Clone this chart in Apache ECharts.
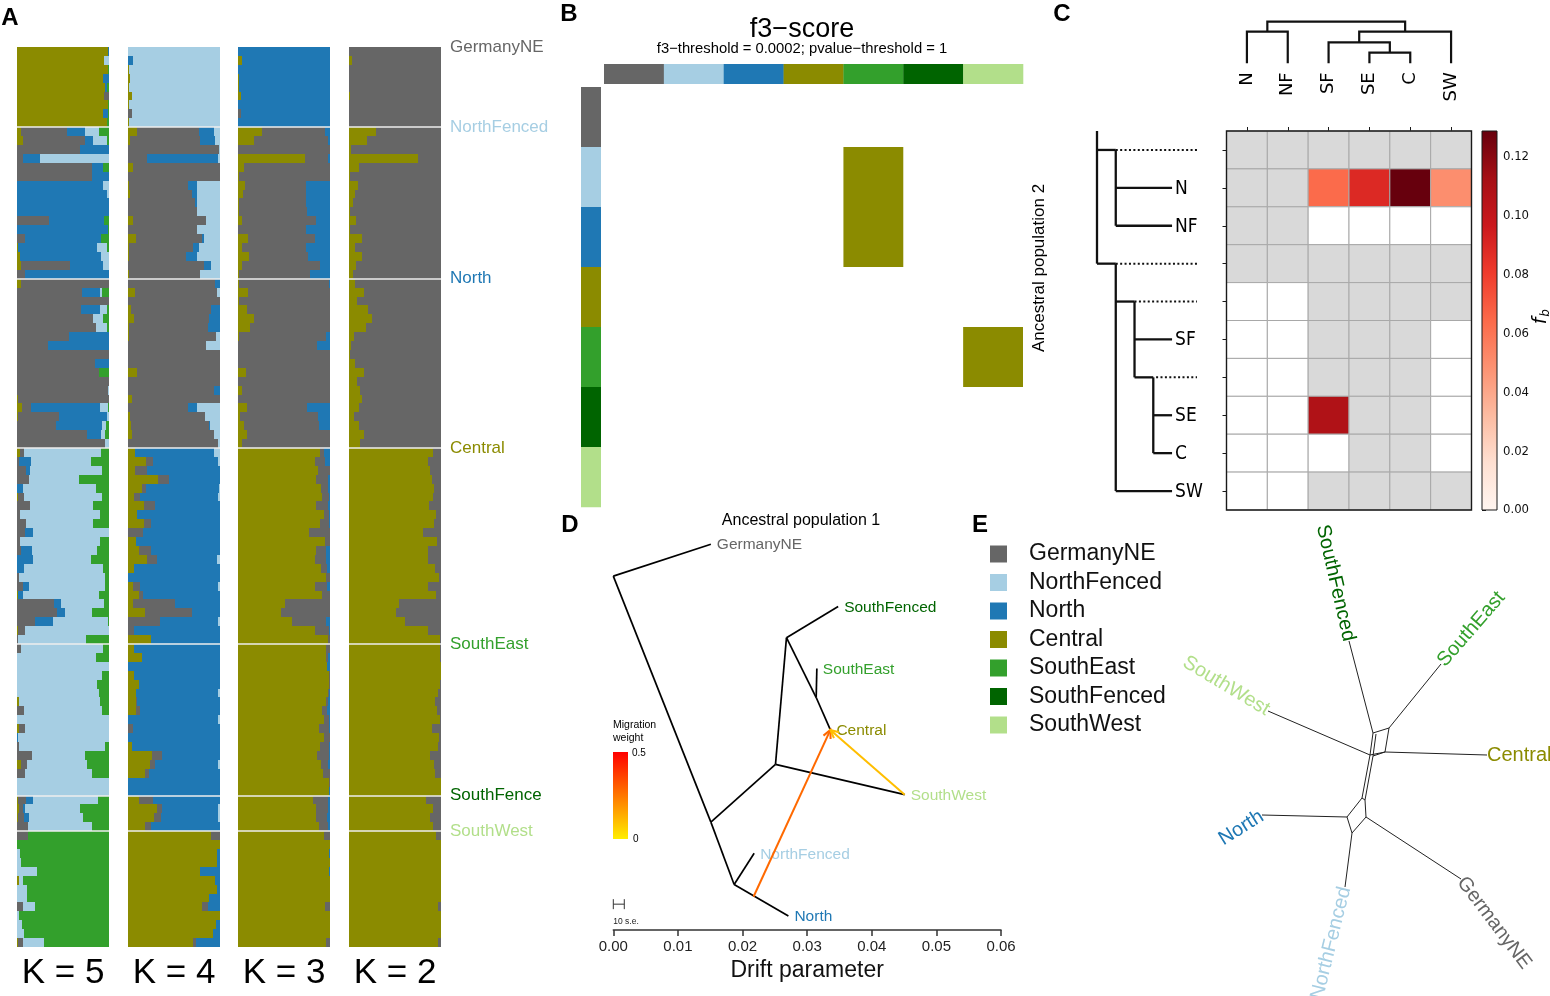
<!DOCTYPE html>
<html>
<head>
<meta charset="utf-8">
<title>Population structure</title>
<script src="https://cdn.jsdelivr.net/npm/echarts@6/dist/echarts.min.js"></script>
<style>
html,body{margin:0;padding:0;background:#ffffff;}
#chart{width:1550px;height:996px;}
</style>
</head>
<body>
<div id="chart"></div>
<script>
// ================= DATA =================
const popNames  = ['GermanyNE','NorthFenced','North','Central','SouthEast','SouthFenced','SouthWest'];
const popColors = ['#666666','#a6cee3','#1f78b4','#8b8b00','#33a02c','#006400','#b2df8a'];

// ---- Panel A : admixture proportions (percent, one row per individual) ----
const groupLabels = ['GermanyNE','NorthFenced','North','Central','SouthEast','SouthFence','SouthWest'];
const groupSizes  = [9,17,19,22,17,4,13];
const kLabels     = ['K = 5','K = 4','K = 3','K = 2'];
const clusterColorsK5 = ['#8b8b00','#666666','#1f78b4','#a6cee3','#33a02c'];
const clusterColorsK4 = ['#8b8b00','#666666','#1f78b4','#a6cee3'];
const clusterColorsK3 = ['#8b8b00','#666666','#1f78b4'];
const clusterColorsK2 = ['#8b8b00','#666666'];

const admixK5 = [
 [99,0,1,0,0],[95,0,0,5,0],[99,0,0,0,1],[94,0,6,0,0],[96,0,2,0,2],[95,5,0,0,0],[99,0,0,0,1],[94,0,5,0,1],[98,0,0,0,2],
 [4,50,20,15,11],[6,68,9,15,2],[0,69,31,0,0],[0,7,18,75,0],[0,82,12,0,6],[0,82,18,0,0],[0,0,94,6,0],[0,0,98,2,0],[0,0,100,0,0],[0,0,100,0,0],[0,35,60,0,5],[0,0,99,0,1],[0,9,82,0,9],[1,0,86,11,2],[3,0,88,9,0],[4,54,35,7,0],[0,9,91,0,0],
 [4,96,0,0,0],[0,71,19,2,8],[0,100,0,0,0],[0,70,20,8,2],[0,83,0,10,7],[0,86,0,12,2],[0,56,44,0,0],[0,34,66,0,0],[0,100,0,0,0],[0,85,15,0,0],[0,89,0,0,11],[0,100,0,0,0],[0,99,0,1,0],[1,99,0,0,0],[5,10,75,9,1],[1,45,52,2,0],[0,42,50,5,3],[0,76,15,5,4],[0,96,0,4,0],
 [3,5,0,83,9],[0,2,13,65,20],[0,10,4,78,8],[0,13,0,54,33],[0,0,7,79,14],[1,7,0,84,8],[0,14,0,69,17],[0,3,0,87,10],[0,10,0,73,17],[0,9,8,83,0],[0,3,0,87,10],[0,4,12,71,13],[0,0,17,63,20],[0,0,8,85,7],[0,2,0,94,4],[0,6,7,83,4],[1,0,5,83,11],[0,40,8,47,5],[0,43,9,29,19],[0,20,19,60,1],[1,8,0,91,0],[0,1,0,74,25],
 [0,4,0,90,6],[0,0,0,86,14],[0,0,0,100,0],[0,0,0,92,8],[0,0,0,87,13],[0,0,0,89,11],[2,0,0,88,10],[0,8,0,84,8],[0,0,0,100,0],[2,7,0,91,0],[0,0,1,99,0],[0,2,0,94,4],[0,16,0,58,26],[4,7,0,65,24],[0,9,0,73,18],[0,0,0,100,0],[0,0,0,100,0],
 [1,9,7,71,12],[2,4,3,60,31],[1,7,5,59,28],[0,12,0,70,18],
 [0,12,0,0,88],[0,0,0,0,100],[0,0,0,3,97],[0,0,0,4,96],[0,0,0,22,78],[2,0,0,4,94],[0,0,0,11,89],[0,0,0,11,89],[0,7,0,13,80],[0,0,0,2,98],[0,0,0,5,95],[0,0,0,8,92],[1,6,0,22,71]
];
const admixK4 = [
 [0,0,0,100],[0,0,5,95],[1,0,0,99],[2,0,0,98],[1,0,0,99],[4,0,0,96],[1,0,0,99],[0,4,0,96],[1,0,0,99],
 [10,67,16,7],[2,76,17,5],[0,99,0,1],[0,21,77,2],[5,95,0,0],[0,100,0,0],[1,64,10,25],[2,68,5,25],[0,73,2,25],[0,75,0,25],[5,80,0,15],[0,75,0,25],[9,71,3,17],[1,70,6,23],[1,62,12,25],[0,83,7,10],[1,77,0,22],
 [0,95,5,0],[8,89,0,3],[0,100,0,0],[3,87,10,0],[7,81,12,0],[1,86,13,0],[1,95,0,4],[0,85,0,15],[0,100,0,0],[0,100,0,0],[10,90,0,0],[0,100,0,0],[0,94,6,0],[4,96,0,0],[0,65,10,25],[2,82,0,16],[3,85,1,11],[4,89,0,7],[0,98,0,2],
 [8,0,86,6],[20,7,71,2],[8,13,79,0],[33,12,55,0],[15,5,79,1],[7,6,85,2],[17,12,71,0],[10,0,90,0],[17,8,75,0],[0,16,84,0],[9,0,91,0],[12,13,75,0],[21,10,66,3],[7,0,93,0],[0,0,100,0],[5,8,85,2],[12,4,84,0],[5,46,49,0],[19,51,30,0],[0,35,63,2],[0,7,93,0],[25,0,75,0],
 [6,0,94,0],[15,0,85,0],[0,0,100,0],[7,0,93,0],[12,0,88,0],[9,0,89,2],[9,1,90,0],[9,4,87,0],[0,0,98,2],[0,5,95,0],[0,0,100,0],[4,0,96,0],[26,11,63,0],[24,5,69,2],[18,5,77,0],[0,0,100,0],[0,0,100,0],
 [12,15,73,0],[31,6,61,2],[28,8,62,2],[19,6,75,0],
 [90,10,0,0],[100,0,0,0],[97,0,3,0],[97,0,3,0],[78,0,22,0],[95,0,5,0],[97,0,3,0],[88,0,12,0],[80,7,13,0],[100,0,0,0],[96,0,4,0],[92,0,8,0],[71,3,26,0]
];
const admixK3 = [
 [0,0,100],[4,0,96],[0,0,100],[1,0,99],[1,0,99],[3,0,97],[0,0,100],[0,3,97],[0,0,100],
 [26,69,5],[17,81,2],[0,100,0],[73,25,2],[6,94,0],[1,99,0],[8,66,26],[5,69,26],[1,73,26],[1,74,25],[4,81,15],[0,74,26],[11,73,16],[4,70,26],[12,64,24],[4,85,11],[1,77,22],
 [1,98,1],[11,89,0],[1,99,0],[10,90,0],[17,83,0],[13,87,0],[1,95,4],[0,86,14],[0,100,0],[0,100,0],[9,91,0],[0,100,0],[4,96,0],[0,100,0],[10,65,25],[2,85,13],[7,81,12],[10,90,0],[4,96,0],
 [89,4,7],[84,11,5],[87,13,0],[85,13,2],[90,8,2],[91,8,1],[85,13,2],[93,6,1],[89,10,1],[77,23,0],[95,5,0],[85,11,4],[84,12,4],[90,7,3],[96,4,0],[84,13,3],[91,9,0],[51,49,0],[47,53,0],[59,37,4],[84,15,1],[98,2,0],
 [96,4,0],[96,2,2],[97,0,3],[99,1,0],[99,1,0],[98,1,1],[96,2,2],[91,6,3],[93,6,1],[88,11,1],[94,6,0],[89,10,1],[86,13,1],[90,8,2],[92,8,0],[99,1,0],[99,0,1],
 [82,16,2],[85,13,2],[85,12,3],[88,10,2],
 [93,7,0],[100,0,0],[99,0,1],[100,0,0],[99,0,1],[100,0,0],[100,0,0],[100,0,0],[95,5,0],[100,0,0],[100,0,0],[100,0,0],[96,4,0]
];
const admixK2 = [
 [0,100],[3,97],[0,100],[0,100],[0,100],[1,99],[0,100],[0,100],[0,100],
 [29,71],[20,80],[2,98],[75,25],[11,89],[1,99],[10,90],[7,93],[4,96],[1,99],[8,92],[1,99],[14,86],[7,93],[14,86],[8,92],[4,96],
 [6,94],[16,84],[9,91],[21,79],[25,75],[19,81],[5,95],[2,98],[1,99],[6,94],[16,84],[9,91],[12,88],[14,86],[11,89],[5,95],[11,89],[16,84],[12,88],
 [91,9],[86,14],[88,12],[90,10],[92,8],[91,9],[87,13],[95,5],[92,8],[80,20],[96,4],[86,14],[86,14],[93,7],[98,2],[86,14],[95,5],[54,46],[51,49],[61,39],[86,14],[99,1],
 [99,1],[99,1],[100,0],[100,0],[99,1],[97,3],[94,6],[96,4],[99,1],[90,10],[98,2],[97,3],[88,12],[92,8],[94,6],[100,0],[100,0],
 [84,16],[91,9],[88,12],[91,9],
 [95,5],[100,0],[100,0],[100,0],[100,0],[100,0],[100,0],[100,0],[97,3],[100,0],[100,0],[100,0],[97,3]
];

// ---- Panel B : significant f3 results (row = source 1, column = source 2, fill = target) ----
const f3Title = 'f3\u2212score';
const f3Subtitle = 'f3\u2212threshold = 0.0002; pvalue\u2212threshold = 1';
const f3RowPop    = ['NorthFenced','North','SouthEast'];
const f3ColPop    = ['SouthEast','SouthEast','SouthWest'];
const f3TargetPop = ['Central','Central','Central'];

// ---- Panel C : f-branch statistic ----
const fbCols      = ['N','NF','SF','SE','C','SW'];
const fbRowIds    = ['i1','N','NF','i2','i3','SF','i4','SE','C','SW'];
const fbRowLabels = ['','N','NF','','','SF','','SE','C','SW'];
const fbValues = [
 [null,null,null,null,null,null],
 [null,null,0.064,0.089,0.1288,0.050],
 [null,null,0,0,0,0],
 [null,null,null,null,null,null],
 [0,0,null,null,null,null],
 [0,0,null,null,null,0],
 [0,0,null,null,null,0],
 [0,0,0.108,null,null,0],
 [0,0,0,null,null,0],
 [0,0,null,null,null,null]
];
const fbMax = 0.1288;
const fbTicks = [0,0.02,0.04,0.06,0.08,0.10,0.12];
// column dendrogram: [childA, childB, height]; leaves 0..5, clusters 6..
const colMerges = [[3,4,0.0102],[2,6,0.0202],[0,1,0.0304],[7,5,0.0304],[8,9,0.0400]];
// row cladogram segments: [x1, row1, x2, row2, dotted]
const rowTreeSegs = [
 [0,-0.5,0,3,0],[0,0,1,0,0],[1,0,5.33,0,1],[1,0,1,2,0],[1,1,4,1,0],[1,2,4,2,0],
 [0,3,1,3,0],[1,3,5.33,3,1],[1,3,1,9,0],[1,4,2,4,0],[2,4,5.33,4,1],[2,4,2,6,0],
 [2,5,4,5,0],[2,6,3,6,0],[3.15,6,5.33,6,1],[3,6,3,8,0],[3,7,4,7,0],[3,8,4,8,0],[1,9,4,9,0]
];

// ---- Panel D : TreeMix graph ----
const tmNodeNames = ['root','GermanyNE','nA','nB','NorthFenced','North','nC','SouthWest','nD','SouthFenced','nE','SouthEast','Central'];
const tmNodeDrift = [0.0000,0.0151,0.0151,0.0187,0.0218,0.0271,0.0251,0.0451,0.0268,0.0348,0.0314,0.0315,0.0336];
const tmNodeY     = [8.63,9.41,2.63,1.11,1.87,0.34,4.04,3.30,7.13,7.89,5.67,6.38,4.88];
const tmEdges = [['root','GermanyNE'],['root','nA'],['nA','nB'],['nB','NorthFenced'],['nB','North'],['nA','nC'],
                 ['nC','SouthWest'],['nC','nD'],['nD','SouthFenced'],['nD','nE'],['nE','Central'],['nE','SouthEast']];
const tmTips = ['GermanyNE','SouthFenced','SouthEast','Central','SouthWest','NorthFenced','North'];
const migFromDrift = [0.0217,0.0451];
const migFromY     = [0.81,3.30];
const migTo        = ['Central','Central'];
const migWeight    = [0.28,0.10];
const seBarDrift   = 0.0017;

// ---- Panel E : neighbour-net ----
const netNodeNames = ['SouthFenced','SouthEast','SouthWest','Central','North','NorthFenced','GermanyNE',
                      'a','b','c','d','a2','d2','g','g2','i','k','j'];
const netNodeX = [199,291,118,337,112,195,311, 223,239,235,220,226,223,212,215,197,202,216];
const netNodeY = [121,144,191,235,295,367,359, 213,208,232,235,214,236,278,280,297,313,297];
const netEdges = [['SouthFenced','a'],['SouthEast','b'],['SouthWest','d'],['Central','c'],['North','i'],['NorthFenced','k'],['GermanyNE','j'],
                  ['a','b'],['b','c'],['c','d'],['d','a'],['a2','d2'],['c','d2'],['d','g'],['d2','g2'],['g','g2'],
                  ['g','i'],['i','k'],['k','j'],['j','g2']];
const netLabelPop    = ['SouthFenced','SouthEast','SouthWest','Central','North','NorthFenced','GermanyNE'];
const netLabelAngle  = [-77,49,-31,0,32,76,-53];
const netLabelAnchor = ['end','start','end','start','end','end','start'];

// ================= HELPERS =================
const FONT = '"Liberation Sans", Arial, Helvetica, sans-serif';
const DJ   = '"DejaVu Sans", sans-serif';
const DJC  = '"DejaVu Sans Condensed", "DejaVu Sans", sans-serif';
const colorOf = name => popColors[popNames.indexOf(name)];

const redsStops = ['#fff5f0','#fee0d2','#fcbba1','#fc9272','#fb6a4a','#ef3b2c','#cb181d','#a50f15','#67000d'];
function hex2rgb(h){return [parseInt(h.substr(1,2),16),parseInt(h.substr(3,2),16),parseInt(h.substr(5,2),16)];}
function redsColor(t){
  if (t <= 0) return '#ffffff';
  t = Math.min(1, t);
  const p = t * (redsStops.length - 1), i = Math.min(Math.floor(p), redsStops.length - 2), f = p - i;
  const a = hex2rgb(redsStops[i]), b = hex2rgb(redsStops[i+1]);
  return 'rgb(' + a.map((v,k)=>Math.round(v + (b[k]-v)*f)).join(',') + ')';
}
function migColor(w){
  const t = Math.max(0, Math.min(1, w / 0.5));
  return 'rgb(255,' + Math.round(238 * (1 - t)) + ',0)';
}

const grid = [], xAxis = [], yAxis = [], series = [];
function addGrid(pos, xa, ya){
  const i = grid.length;
  grid.push(Object.assign({containLabel:false}, pos));
  xAxis.push(Object.assign({gridIndex:i}, xa));
  yAxis.push(Object.assign({gridIndex:i}, ya));
  return i;
}
function hid(min, max, extra){ return Object.assign({type:'value', min:min, max:max, show:false, splitLine:{show:false}}, extra || {}); }
function txt(x, y, text, font, fill, align, vAlign, rot){
  return {type:'text', x:x, y:y, rotation:rot || 0, silent:true,
          style:{text:text, font:font, fill:fill || '#000', align:align || 'left', verticalAlign:vAlign || 'middle',
                 textAlign:align || 'left', textVerticalAlign:vAlign || 'middle'}};
}

// ================= PANEL A =================
const nInd = groupSizes.reduce((a,b)=>a+b,0);
const groupStarts = []; { let c = 0; groupSizes.forEach(s=>{ groupStarts.push(c); c += s; }); }
const groupBounds = groupStarts.slice(1);
const admixSets = [admixK5, admixK4, admixK3, admixK2];
const admixColorSets = [clusterColorsK5, clusterColorsK4, clusterColorsK3, clusterColorsK2];
const panelLefts = [17,128,238,349];

admixSets.forEach((rows, k) => {
  const gi = addGrid({left:panelLefts[k], top:47, width:92, height:901},
    {type:'value', min:0, max:1, name:kLabels[k], nameLocation:'middle', nameGap:9,
     nameTextStyle:{fontSize:35, fontFamily:FONT, color:'#000'},
     axisLine:{show:false}, axisTick:{show:false}, axisLabel:{show:false}, splitLine:{show:false}},
    hid(0, nInd, {inverse:true}));
  const colors = admixColorSets[k];
  const data = [];
  rows.forEach((r, i) => {
    const tot = r.reduce((a,b)=>a+b,0); let acc = 0;
    r.forEach((v, j) => { if (v > 0) data.push([i, acc/tot, (acc+v)/tot, j]); acc += v; });
  });
  series.push({type:'custom', xAxisIndex:gi, yAxisIndex:gi, silent:true, encode:{x:[1,2], y:0}, data:data,
    renderItem:(p, api) => {
      const a = api.coord([api.value(1), api.value(0)]);
      const b = api.coord([api.value(2), api.value(0) + 1]);
      const x0 = Math.round(a[0]), x1 = Math.round(b[0]), y0 = Math.round(a[1]), y1 = Math.round(b[1]);
      return {type:'rect', shape:{x:x0, y:y0, width:x1-x0, height:y1-y0}, style:{fill:colors[api.value(3)]}};
    }});
  series.push({type:'custom', xAxisIndex:gi, yAxisIndex:gi, silent:true, z:5, encode:{y:0}, data:groupBounds.map(b=>[b]),
    renderItem:(p, api) => {
      const a = api.coord([0, api.value(0)]), b = api.coord([1, api.value(0)]);
      const y = Math.round(a[1]);
      return {type:'line', shape:{x1:Math.round(a[0]), y1:y, x2:Math.round(b[0]), y2:y}, style:{stroke:'#eeeeee', lineWidth:1.6}};
    }});
  if (k === 3) {
    series.push({type:'custom', xAxisIndex:gi, yAxisIndex:gi, silent:true, encode:{y:0}, data:groupStarts.map((s,i)=>[s,i]),
      renderItem:(p, api) => {
        const a = api.coord([1, api.value(0)]); const i = api.value(1);
        return txt(a[0] + 9, a[1], groupLabels[i], '17px ' + FONT, popColors[i], 'left', 'middle');
      }});
  }
});

// ================= PANEL B =================
const gB  = addGrid({left:604, top:87, width:419, height:420}, hid(0,7), hid(0,7,{inverse:true}));
const gBt = addGrid({left:604, top:64, width:419, height:20}, hid(0,7), hid(0,1,{inverse:true}));
const gBl = addGrid({left:581, top:87, width:20, height:420}, hid(0,1), hid(0,7,{inverse:true}));
series.push({type:'custom', xAxisIndex:gBt, yAxisIndex:gBt, silent:true, encode:{x:0}, data:popNames.map((n,i)=>[i]),
  renderItem:(p, api) => { const i = api.value(0); const a = api.coord([i,0]), b = api.coord([i+1,1]);
    return {type:'rect', shape:{x:a[0], y:a[1], width:b[0]-a[0]+0.3, height:b[1]-a[1]}, style:{fill:popColors[i]}}; }});
series.push({type:'custom', xAxisIndex:gBl, yAxisIndex:gBl, silent:true, encode:{y:0}, data:popNames.map((n,i)=>[i]),
  renderItem:(p, api) => { const i = api.value(0); const a = api.coord([0,i]), b = api.coord([1,i+1]);
    return {type:'rect', shape:{x:a[0], y:a[1], width:b[0]-a[0], height:b[1]-a[1]+0.3}, style:{fill:popColors[i]}}; }});
series.push({type:'custom', xAxisIndex:gB, yAxisIndex:gB, silent:true, encode:{x:0, y:1},
  data:f3RowPop.map((r,i)=>[popNames.indexOf(f3ColPop[i]), popNames.indexOf(r), popNames.indexOf(f3TargetPop[i])]),
  renderItem:(p, api) => { const c = api.value(0), r = api.value(1); const a = api.coord([c,r]), b = api.coord([c+1,r+1]);
    return {type:'rect', shape:{x:a[0], y:a[1], width:b[0]-a[0], height:b[1]-a[1]}, style:{fill:popColors[api.value(2)]}}; }});

// ================= PANEL C =================
const gH = addGrid({left:1226.5, top:131, width:245, height:379},
  {type:'category', data:fbCols, position:'top', axisLine:{show:false},
   axisTick:{show:true, alignWithLabel:true, interval:0, length:4, lineStyle:{color:'#1a1a1a', width:1}},
   axisLabel:{show:false, interval:0}, splitLine:{show:false}},
  {type:'category', data:fbRowIds, inverse:true, axisLine:{show:false},
   axisTick:{show:true, alignWithLabel:true, interval:0, length:4, lineStyle:{color:'#1a1a1a', width:1}},
   axisLabel:{show:false, interval:0}, splitLine:{show:false}});
const heatData = [];
fbValues.forEach((row, r) => row.forEach((v, c) => heatData.push([c, r, v === null ? 0 : v, v === null ? 1 : 0])));
series.push({type:'custom', xAxisIndex:gH, yAxisIndex:gH, silent:true, encode:{x:0, y:1}, data:heatData,
  renderItem:(p, api) => {
    const ctr = api.coord([api.value(0), api.value(1)]); const s = api.size([1,1]);
    const fill = api.value(3) === 1 ? '#d9d9d9' : redsColor(api.value(2) / fbMax);
    return {type:'rect', shape:{x:ctr[0]-s[0]/2, y:ctr[1]-s[1]/2, width:s[0], height:s[1]}, style:{fill:fill, stroke:'#a8a8a8', lineWidth:1}};
  }});
series.push({type:'custom', xAxisIndex:gH, yAxisIndex:gH, silent:true, z:6, encode:{x:0, y:1}, data:[[0,0]],
  renderItem:(p, api) => {
    const a = api.coord([0,0]), b = api.coord([fbCols.length-1, fbRowIds.length-1]); const s = api.size([1,1]);
    return {type:'rect', shape:{x:a[0]-s[0]/2, y:a[1]-s[1]/2, width:b[0]-a[0]+s[0], height:b[1]-a[1]+s[1]},
            style:{fill:'none', stroke:'#1a1a1a', lineWidth:1.4}};
  }});

// colour bar
const gCB = addGrid({left:1482, top:131, width:15, height:379}, hid(0,1),
  {type:'value', min:0, max:fbMax, position:'right', axisLine:{show:false},
   axisTick:{show:true, length:4, lineStyle:{color:'#1a1a1a'}, customValues:fbTicks},
   axisLabel:{show:true, fontSize:13, fontFamily:DJC, color:'#111', margin:6, customValues:fbTicks,
              formatter:v => (v > 0.125 ? '' : v.toFixed(2))},
   splitLine:{show:false}});
series.push({type:'custom', xAxisIndex:gCB, yAxisIndex:gCB, silent:true, encode:{y:0}, data:[[fbMax]],
  renderItem:(p, api) => {
    const a = api.coord([0, api.value(0)]), b = api.coord([1, 0]);
    const stops = redsStops.map((c,i)=>({offset:i/(redsStops.length-1), color:c}));
    return {type:'rect', shape:{x:a[0], y:a[1], width:b[0]-a[0], height:b[1]-a[1]},
            style:{fill:new echarts.graphic.LinearGradient(0,1,0,0,stops), stroke:'#1a1a1a', lineWidth:1}};
  }});

// column dendrogram
const gDT = addGrid({left:1226.5, top:21.7, width:245, height:41.6}, hid(0,6), hid(0,0.04));
const clX = [0.5,1.5,2.5,3.5,4.5,5.5], clH = [0,0,0,0,0,0];
const dendroLinks = [];
colMerges.forEach(m => {
  const xa = clX[m[0]], xb = clX[m[1]];
  dendroLinks.push([xa, clH[m[0]], xb, clH[m[1]], m[2]]);
  clX.push((xa + xb) / 2); clH.push(m[2]);
});
series.push({type:'custom', xAxisIndex:gDT, yAxisIndex:gDT, silent:true, encode:{x:[0,2], y:[1,3,4]}, data:dendroLinks,
  renderItem:(p, api) => {
    const p1 = api.coord([api.value(0), api.value(1)]), p2 = api.coord([api.value(0), api.value(4)]);
    const p3 = api.coord([api.value(2), api.value(4)]), p4 = api.coord([api.value(2), api.value(3)]);
    return {type:'polyline', shape:{points:[p1,p2,p3,p4]}, style:{stroke:'#111', lineWidth:2.2, fill:'none'}};
  }});
series.push({type:'custom', xAxisIndex:gDT, yAxisIndex:gDT, silent:true, encode:{x:0}, data:fbCols.map((c,i)=>[i+0.5,i]),
  renderItem:(p, api) => {
    const a = api.coord([api.value(0), 0]);
    return txt(a[0], a[1] + 9, fbCols[api.value(1)], '18px ' + DJ, '#000', 'right', 'middle', Math.PI/2);
  }});

// row cladogram
const gLT = addGrid({left:1097, top:131, width:100, height:379}, hid(0,5.33), hid(-0.5,9.5,{inverse:true}));
series.push({type:'custom', xAxisIndex:gLT, yAxisIndex:gLT, silent:true, encode:{x:[0,2], y:[1,3]}, data:rowTreeSegs,
  renderItem:(p, api) => {
    const a = api.coord([api.value(0), api.value(1)]), b = api.coord([api.value(2), api.value(3)]);
    const dotted = api.value(4) === 1;
    return {type:'line', shape:{x1:a[0], y1:a[1], x2:b[0], y2:b[1]},
            style:{stroke:'#111', lineWidth:dotted ? 2 : 2.3, lineDash:dotted ? [2,2.4] : null}};
  }});
series.push({type:'custom', xAxisIndex:gLT, yAxisIndex:gLT, silent:true, encode:{y:0},
  data:fbRowLabels.map((l,i)=>[i]).filter(d=>fbRowLabels[d[0]] !== ''),
  renderItem:(p, api) => {
    const a = api.coord([4, api.value(0)]);
    return txt(a[0] + 3, a[1] + 1, fbRowLabels[api.value(0)], '19px ' + DJC, '#000', 'left', 'middle');
  }});

// ================= PANEL D =================
const gD = addGrid({left:613.3, top:520, width:387.7, height:410},
  {type:'value', min:0, max:0.06, interval:0.01,
   axisLine:{show:true, onZero:false, lineStyle:{color:'#333', width:1.5}},
   axisTick:{show:true, length:6, lineStyle:{color:'#333', width:1.5}},
   axisLabel:{fontSize:15, fontFamily:FONT, color:'#222', margin:9, formatter:v => v.toFixed(2)},
   splitLine:{show:false}, name:'Drift parameter', nameLocation:'middle', nameGap:29,
   nameTextStyle:{fontSize:23, fontFamily:FONT, color:'#111'}},
  hid(0,10));
const tmIdx = n => tmNodeNames.indexOf(n);
series.push({type:'custom', xAxisIndex:gD, yAxisIndex:gD, silent:true, encode:{x:[0,2], y:[1,3]},
  data:tmEdges.map(e => [tmNodeDrift[tmIdx(e[0])], tmNodeY[tmIdx(e[0])], tmNodeDrift[tmIdx(e[1])], tmNodeY[tmIdx(e[1])]]),
  renderItem:(p, api) => {
    const a = api.coord([api.value(0), api.value(1)]), b = api.coord([api.value(2), api.value(3)]);
    return {type:'line', shape:{x1:a[0], y1:a[1], x2:b[0], y2:b[1]}, style:{stroke:'#000', lineWidth:1.7}};
  }});
series.push({type:'custom', xAxisIndex:gD, yAxisIndex:gD, silent:true, z:4, encode:{x:[0,2], y:[1,3]},
  data:migTo.map((t,i) => [migFromDrift[i], migFromY[i], tmNodeDrift[tmIdx(t)], tmNodeY[tmIdx(t)], migWeight[i]]),
  renderItem:(p, api) => {
    const a = api.coord([api.value(0), api.value(1)]), b = api.coord([api.value(2), api.value(3)]);
    const col = migColor(api.value(4));
    const dx = b[0]-a[0], dy = b[1]-a[1], L = Math.sqrt(dx*dx+dy*dy), ux = dx/L, uy = dy/L;
    const hl = 9, ang = 0.45;
    const h1 = [b[0] - hl*(ux*Math.cos(ang) - uy*Math.sin(ang)), b[1] - hl*(uy*Math.cos(ang) + ux*Math.sin(ang))];
    const h2 = [b[0] - hl*(ux*Math.cos(ang) + uy*Math.sin(ang)), b[1] - hl*(uy*Math.cos(ang) - ux*Math.sin(ang))];
    return {type:'group', children:[
      {type:'line', shape:{x1:a[0], y1:a[1], x2:b[0], y2:b[1]}, style:{stroke:col, lineWidth:2}},
      {type:'polyline', shape:{points:[h1,b,h2]}, style:{stroke:col, lineWidth:2, fill:'none'}}
    ]};
  }});
series.push({type:'custom', xAxisIndex:gD, yAxisIndex:gD, silent:true, encode:{x:0, y:1},
  data:tmTips.map(t => [tmNodeDrift[tmIdx(t)], tmNodeY[tmIdx(t)], popNames.indexOf(t)]),
  renderItem:(p, api) => {
    const a = api.coord([api.value(0), api.value(1)]); const i = api.value(2);
    return txt(a[0] + 6, a[1] + 1, popNames[i], '15.5px ' + FONT, popColors[i], 'left', 'middle');
  }});
series.push({type:'custom', xAxisIndex:gD, yAxisIndex:gD, silent:true, encode:{x:[0,2], y:1}, data:[[0, 0.63, seBarDrift]],
  renderItem:(p, api) => {
    const a = api.coord([api.value(0), api.value(1)]), b = api.coord([api.value(2), api.value(1)]);
    return {type:'group', children:[
      {type:'line', shape:{x1:a[0], y1:a[1], x2:b[0], y2:b[1]}, style:{stroke:'#333', lineWidth:1}},
      {type:'line', shape:{x1:a[0], y1:a[1]-5, x2:a[0], y2:a[1]+5}, style:{stroke:'#333', lineWidth:1}},
      {type:'line', shape:{x1:b[0], y1:b[1]-5, x2:b[0], y2:b[1]+5}, style:{stroke:'#333', lineWidth:1}},
      txt(a[0], a[1] + 17, '10 s.e.', '8.5px ' + FONT, '#222', 'left', 'middle')
    ]};
  }});

// ================= PANEL E : network =================
const gE = addGrid({left:1150, top:520, width:400, height:476}, hid(0,400), hid(0,476,{inverse:true}));
const netIdx = n => netNodeNames.indexOf(n);
series.push({type:'custom', xAxisIndex:gE, yAxisIndex:gE, silent:true, encode:{x:[0,2], y:[1,3]},
  data:netEdges.map(e => [netNodeX[netIdx(e[0])], netNodeY[netIdx(e[0])], netNodeX[netIdx(e[1])], netNodeY[netIdx(e[1])]]),
  renderItem:(p, api) => {
    const a = api.coord([api.value(0), api.value(1)]), b = api.coord([api.value(2), api.value(3)]);
    return {type:'line', shape:{x1:a[0], y1:a[1], x2:b[0], y2:b[1]}, style:{stroke:'#222', lineWidth:1}};
  }});
series.push({type:'custom', xAxisIndex:gE, yAxisIndex:gE, silent:true, encode:{x:0, y:1},
  data:netLabelPop.map((n,i) => [netNodeX[netIdx(n)], netNodeY[netIdx(n)], i]),
  renderItem:(p, api) => {
    const a = api.coord([api.value(0), api.value(1)]); const i = api.value(2);
    const pop = netLabelPop[i];
    return txt(a[0], a[1], pop, '20px ' + FONT, colorOf(pop), netLabelAnchor[i] === 'end' ? 'right' : 'left', 'middle',
               netLabelAngle[i] * Math.PI / 180);
  }});

// ================= GRAPHIC (titles, letters, legends) =================
const graphic = [
  txt(10, 18, 'A', 'bold 24px ' + FONT, '#000', 'center', 'middle'),
  txt(569, 14, 'B', 'bold 24px ' + FONT, '#000', 'center', 'middle'),
  txt(1062, 14, 'C', 'bold 24px ' + FONT, '#000', 'center', 'middle'),
  txt(570, 525, 'D', 'bold 24px ' + FONT, '#000', 'center', 'middle'),
  txt(980, 525, 'E', 'bold 24px ' + FONT, '#000', 'center', 'middle'),
  txt(802, 30, f3Title, '27px ' + FONT, '#000', 'center', 'middle'),
  txt(802, 49, f3Subtitle, '14.8px ' + FONT, '#000', 'center', 'middle'),
  txt(1039, 268, 'Ancestral population 2', '17px ' + FONT, '#000', 'center', 'middle', Math.PI/2),
  txt(801, 521, 'Ancestral population 1', '16px ' + FONT, '#000', 'center', 'middle'),
  txt(613, 725, 'Migration', '10.5px ' + FONT, '#000', 'left', 'middle'),
  txt(613, 738, 'weight', '10.5px ' + FONT, '#000', 'left', 'middle'),
  {type:'rect', silent:true, shape:{x:613, y:752, width:15, height:87},
   style:{fill:new echarts.graphic.LinearGradient(0,0,0,1,[{offset:0,color:migColor(0.5)},{offset:1,color:migColor(0)}])}},
  txt(632, 753, '0.5', '10px ' + FONT, '#000', 'left', 'middle'),
  txt(633, 839, '0', '10px ' + FONT, '#000', 'left', 'middle'),
  {type:'group', x:1541, y:318, rotation:Math.PI/2, silent:true, children:[
    txt(-3, 0, 'f', 'italic 19px ' + DJ, '#000', 'center', 'middle'),
    txt(5, 5, 'b', 'italic 12px ' + DJ, '#000', 'center', 'middle')
  ]}
];
popNames.forEach((n, i) => {
  const y = 554 + i * 28.5;
  graphic.push({type:'rect', silent:true, shape:{x:990, y:y-8.5, width:17, height:17}, style:{fill:popColors[i]}});
  graphic.push(txt(1029, y, n, '23px ' + FONT, '#111', 'left', 'middle'));
});

const option = {
  animation:false,
  backgroundColor:'#ffffff',
  textStyle:{fontFamily:FONT},
  grid:grid, xAxis:xAxis, yAxis:yAxis, series:series,
  graphic:{elements:graphic}
};
const chart = echarts.init(document.getElementById('chart'), null, {renderer:'canvas', width:1550, height:996});
chart.setOption(option);
</script>
</body>
</html>
